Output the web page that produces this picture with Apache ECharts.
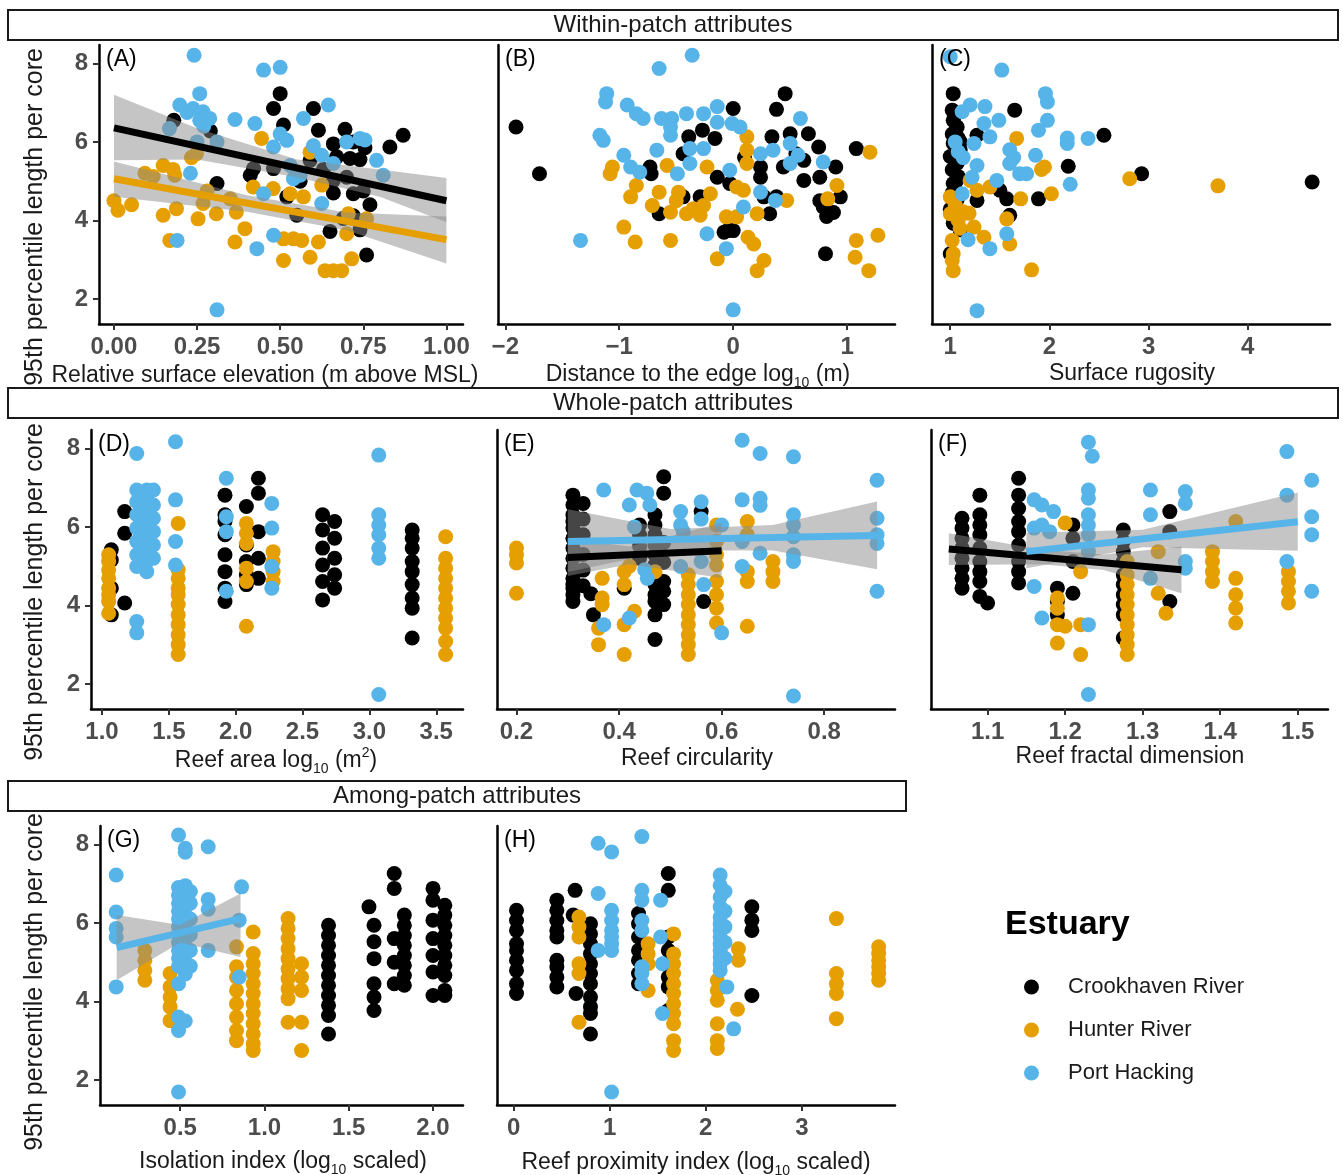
<!DOCTYPE html>
<html>
<head>
<meta charset="utf-8">
<script src="https://cdn.jsdelivr.net/npm/echarts@6/dist/echarts.min.js"></script>
<style>
  html, body { margin: 0; padding: 0; background: #fff; }
  #chart { width: 1343px; height: 1175px; }
</style>
</head>
<body>
<div id="chart"></div>
<script>
const estuaries = ['Crookhaven River', 'Hunter River', 'Port Hacking'];
const colours = ['#000000', '#E69F00', '#56B4E9'];

// one column of cores from the same reef
function col(x, ys) { return ys.map(y => [x, y]); }

// tick labels
const yTicks = [2, 4, 6, 8];
const aTicks = [0, 0.25, 0.5, 0.75, 1];
const bTicks = [-2, -1, 0, 1];
const cTicks = [1, 2, 3, 4];
const dTicks = [1.0, 1.5, 2.0, 2.5, 3.0, 3.5];
const eTicks = [0.2, 0.4, 0.6, 0.8];
const fTicks = [1.1, 1.2, 1.3, 1.4, 1.5];
const gTicks = [0.5, 1.0, 1.5, 2.0];
const hTicks = [0, 1, 2, 3];

// (A) relative surface elevation
const aCrook = [[0.50,7.23],[0.48,6.85],[0.60,6.85],[0.18,6.55],[0.29,6.28],[0.51,6.43],[0.615,6.30],[0.695,6.32],[0.66,5.95],[0.72,6.0],[0.755,5.85],[0.87,6.17],[0.83,5.87],[0.67,5.62],[0.71,5.58],[0.74,5.55],[0.41,5.15],[0.42,5.32],[0.48,5.32],[0.59,5.53],[0.66,5.02],[0.70,5.1],[0.31,4.94],[0.52,4.6],[0.55,4.13],[0.66,4.7],[0.72,4.68],[0.75,4.75],[0.77,4.4],[0.72,4.12],[0.69,4.05],[0.65,3.72],[0.74,3.76],[0.76,3.12],[0.56,5.0],[0.63,5.3]];
const aHunter = [[0.0,4.5],[0.012,4.26],[0.053,4.4],[0.093,5.2],[0.118,5.12],[0.148,5.4],[0.178,5.3],[0.183,5.15],[0.233,5.6],[0.248,5.7],[0.148,4.13],[0.188,4.3],[0.168,3.49],[0.253,4.04],[0.268,4.43],[0.308,4.17],[0.368,4.21],[0.394,3.79],[0.364,3.45],[0.444,6.09],[0.419,4.85],[0.479,4.81],[0.530,4.68],[0.570,4.6],[0.590,5.74],[0.625,4.9],[0.510,3.53],[0.540,3.53],[0.565,3.49],[0.615,3.45],[0.510,2.98],[0.590,3.06],[0.635,2.72],[0.660,2.72],[0.685,2.72],[0.715,3.02],[0.700,3.66],[0.760,4.04],[0.705,4.17],[0.28,4.75],[0.35,4.55]];
const aPort = [[0.241,8.21],[0.45,7.83],[0.50,7.9],[0.258,7.23],[0.198,6.94],[0.238,6.85],[0.268,6.77],[0.258,6.55],[0.288,6.6],[0.364,6.57],[0.424,6.47],[0.57,6.6],[0.645,6.94],[0.167,6.34],[0.25,6.0],[0.31,6.0],[0.50,6.2],[0.52,6.04],[0.48,5.87],[0.625,5.66],[0.70,6.0],[0.74,6.09],[0.755,6.05],[0.79,5.53],[0.81,5.15],[0.53,5.4],[0.56,5.15],[0.54,5.06],[0.23,5.2],[0.45,4.68],[0.625,4.43],[0.48,3.62],[0.43,3.28],[0.19,3.49],[0.31,1.72],[0.22,6.75],[0.27,6.4],[0.6,5.9],[0.66,5.45]];
const aCrookFit = [[0, 6.36], [1, 4.5]];
const aCrookBand = [[0, 5.53, 7.2], [0.25, 5.55, 6.35], [0.55, 5.1, 5.55], [0.8, 4.6, 5.3], [1, 3.95, 5.08]];
const aHunterFit = [[0, 5.06], [1, 3.51]];
const aHunterBand = [[0, 4.6, 5.5], [0.4, 4.22, 4.64], [0.7, 3.75, 4.2], [1, 2.9, 4.1]];

// (B) distance to the edge
const bCrook = [[-1.906,6.38],[-1.70,5.19],[0.0,6.85],[0.456,7.23],[0.38,6.83],[-0.27,6.3],[-0.16,6.09],[-0.39,6.13],[-0.44,5.7],[0.34,6.13],[0.50,6.21],[0.66,6.21],[0.75,5.87],[1.08,5.83],[0.62,5.53],[0.90,5.36],[-0.73,5.36],[-0.72,5.19],[0.24,5.36],[0.24,5.1],[0.44,5.36],[0.62,5.02],[0.76,5.1],[-0.14,5.1],[-0.03,4.94],[-0.44,4.6],[-0.29,4.6],[0.76,4.5],[0.94,4.6],[0.27,4.6],[0.38,4.6],[0.79,4.34],[0.88,4.2],[0.82,4.1],[0.32,4.17],[-0.65,4.17],[-0.05,3.74],[0.0,3.74],[-0.08,3.7],[0.81,3.15],[0.1,5.6],[0.55,5.7]];
const bHunter = [[-1.06,5.36],[-1.08,5.19],[-0.85,4.89],[-0.90,4.6],[-0.96,3.83],[-0.86,3.45],[-0.71,4.38],[-0.65,4.72],[-0.58,5.4],[-0.55,4.21],[-0.55,3.49],[-0.48,4.72],[-0.41,4.17],[-0.29,4.13],[-0.23,5.36],[-0.26,4.38],[-0.20,4.68],[-0.14,3.02],[-0.06,4.09],[0.03,4.09],[0.12,6.13],[0.12,5.79],[0.12,5.45],[0.03,4.85],[0.09,4.77],[0.13,3.57],[0.18,3.4],[0.21,4.17],[0.27,2.98],[0.21,2.72],[0.47,4.51],[0.91,4.89],[0.83,4.55],[1.20,5.74],[1.08,3.49],[1.07,3.06],[1.27,3.62],[1.19,2.72],[-0.35,4.3],[-0.5,4.5]];
const bPort = [[-0.36,8.21],[-0.65,7.87],[-1.11,7.23],[-1.12,7.02],[-0.93,6.94],[-0.85,6.72],[-0.79,6.6],[-0.63,6.6],[-0.54,6.6],[-0.41,6.72],[-0.26,6.72],[-0.14,6.9],[-0.55,6.38],[-0.55,6.17],[-0.14,6.5],[-0.01,6.47],[0.06,6.38],[0.59,6.6],[-1.17,6.17],[-1.14,6.04],[-0.96,5.66],[-0.90,5.36],[-0.67,5.79],[-0.38,5.83],[-0.26,5.83],[0.24,5.7],[0.35,5.79],[0.50,5.96],[0.57,5.66],[0.50,5.45],[0.79,5.49],[-0.82,5.23],[-0.49,5.19],[-0.38,5.45],[-0.03,5.28],[0.24,4.72],[0.37,4.51],[0.09,4.34],[-0.23,3.66],[-0.06,3.28],[-1.34,3.49],[0.0,1.72]];

// (C) surface rugosity
const cCrook = [[1.03,7.23],[1.02,6.81],[1.03,6.55],[1.07,6.38],[1.02,6.2],[1.08,6.1],[1.03,5.96],[1.1,5.8],[1.0,5.63],[1.07,5.46],[1.02,5.29],[1.08,5.12],[1.03,4.94],[1.02,4.7],[1.07,4.53],[1.0,4.28],[1.07,4.1],[1.03,3.93],[1.1,3.76],[1.0,3.15],[1.05,6.7],[1.1,6.0],[1.06,5.0],[1.65,6.81],[1.27,6.17],[1.27,4.51],[1.5,4.77],[1.57,4.55],[1.6,4.13],[1.89,4.55],[2.19,5.38],[2.55,6.17],[2.93,5.19],[4.65,4.98]];
const cHunter = [[1.67,6.09],[1.95,5.36],[1.92,5.3],[2.02,4.68],[1.71,4.55],[1.40,4.85],[1.27,4.77],[1.13,4.22],[1.19,4.18],[1.24,3.83],[1.34,3.57],[1.57,4.04],[1.6,3.4],[1.02,3.49],[1.03,3.15],[1.02,2.98],[1.03,2.72],[1.0,4.6],[1.0,4.17],[1.08,4.0],[1.82,2.74],[2.81,5.06],[3.70,4.88],[1.2,5.02],[1.05,4.4],[1.1,3.8]];
const cPort = [[1.0,8.17],[1.52,7.83],[1.96,7.23],[1.98,7.02],[1.98,6.55],[1.89,6.3],[1.35,6.9],[1.2,6.94],[1.12,6.77],[1.49,6.55],[1.34,6.47],[1.4,6.13],[1.24,5.96],[2.18,6.1],[2.18,5.96],[2.39,6.09],[1.6,5.8],[1.64,5.6],[1.6,5.45],[1.86,5.66],[1.7,5.19],[1.77,5.19],[2.21,4.92],[1.27,5.4],[1.22,5.1],[1.13,5.6],[1.08,5.75],[1.47,5.02],[1.12,4.68],[1.57,3.66],[1.18,3.51],[1.4,3.28],[1.27,1.7],[1.05,6.0]];

// (D) reef area
const dCrook = [col(1.07,[5.42,5.16,4.44,3.76]), col(1.17,[6.39,5.84,4.06]), col(1.92,[6.81,6.31,6.14,5.8,5.29,4.86,4.44,4.1]), col(2.08,[6.52,5.54,5.12,4.78,4.53]), col(2.17,[7.24,6.86,5.88,5.2,4.69]), col(2.65,[6.31,5.92,5.46,5.03,4.61,4.14]), col(2.74,[6.14,5.71,5.2,4.78,4.44]), col(3.32,[5.92,5.71,5.46,5.12,4.86,4.53,4.19,3.93,3.17])].flat();
const dHunter = [col(1.05,[5.29,5.12,4.9,4.69,4.44,4.27,4.1,3.8]), col(1.57,[6.09,4.91,4.69,4.44,4.27,4.02,3.76,3.51,3.25,3.0,2.75]), col(2.08,[6.09,5.84,5.58,4.95,4.61,3.47]), col(2.28,[5.37,5.12,4.86,4.61]), col(3.57,[5.75,5.2,4.95,4.69,4.44,4.19,3.93,3.68,3.42,3.08,2.75])].flat();
const dPort = [col(1.26,[7.87,6.94,6.64,6.31,5.97,5.63,5.29,4.99,3.59,3.3]), col(1.335,[6.94,6.73,6.47,6.14,5.8,5.46,5.12,4.86]), col(1.385,[6.94,6.56,6.22,5.88,5.54,5.2]), col(1.55,[8.17,6.69,5.63,5.03]), col(1.93,[7.24,6.26,5.88,4.36]), col(2.27,[6.6,5.97,4.99,4.44]), col(3.07,[7.83,6.31,6.05,5.8,5.46,5.2,1.73])].flat();

// (E) reef circularity
const eCrook = [col(0.31,[6.81,6.56,6.31,6.14,5.97,5.71,5.46,5.2,4.95,4.69,4.53,4.44,4.27,4.1]), col(0.33,[6.6,6.2,5.8,5.3,4.9,4.5]), [[0.35,3.76],[0.345,4.3],[0.41,4.44]], col(0.44,[6.05,5.8,5.5,5.2]), col(0.47,[6.31,6.05,5.8,5.54,5.29,5.03,4.78,4.53,4.27,4.1,3.76,3.13]), col(0.487,[7.28,6.86,5.6,5.1,4.61,4.36,4.02]), [[0.56,6.39],[0.565,4.1]]].flat();
const eHunter = [col(0.2,[5.46,5.29,5.08,4.31]), [[0.367,4.69],[0.367,4.19],[0.367,4.02],[0.36,3.42],[0.36,3.0],[0.41,4.86],[0.41,4.53],[0.41,3.51],[0.41,2.75],[0.43,3.85],[0.47,4.86],[0.42,5.0]], col(0.535,[4.78,4.53,4.27,4.02,3.76,3.51,3.25,3.0,2.75]), col(0.59,[6.05,5.63,5.29,5.03,4.61,4.27,3.93,3.55]), [[0.65,6.14],[0.65,5.8],[0.65,4.86],[0.65,4.61],[0.65,3.47]], col(0.70,[5.12,4.86,4.61])].flat();
const ePort = [[0.64,8.21],[0.675,7.87],[0.74,7.79],[0.903,7.19],[0.37,6.94],[0.435,6.94],[0.454,6.86],[0.42,6.56],[0.46,6.56],[0.56,6.64],[0.64,6.69],[0.675,6.73],[0.675,6.55],[0.52,6.39],[0.52,6.05],[0.525,5.88],[0.6,6.05],[0.74,6.31],[0.74,6.05],[0.74,5.75],[0.903,6.22],[0.903,5.8],[0.903,5.58],[0.64,5.63],[0.675,5.33],[0.74,5.29],[0.74,5.12],[0.64,4.99],[0.52,4.99],[0.56,5.12],[0.45,4.91],[0.455,4.69],[0.565,4.53],[0.903,4.36],[0.42,3.68],[0.37,3.51],[0.6,3.3],[0.74,1.69],[0.43,6.0],[0.56,6.2]];
const eCrookFit = [[0.3, 5.22], [0.6, 5.39]];
const eCrookBand = [[0.3, 4.75, 5.7], [0.42, 5.05, 5.5], [0.6, 4.7, 6.1]];
const ePortFit = [[0.3, 5.63], [0.903, 5.78]];
const ePortBand = [[0.3, 4.85, 6.45], [0.5, 5.4, 5.95], [0.7, 5.4, 6.05], [0.903, 4.92, 6.65]];

// (F) reef fractal dimension
const fCrook = [col(1.067,[6.22,5.97,5.71,5.46,5.2,4.95,4.69,4.44]), col(1.09,[6.81,6.31,6.05,5.8,5.46,5.12,4.86,4.61,4.23]), [[1.1,4.06]], col(1.14,[7.24,6.81,6.47,6.14,5.88,5.54,5.12,4.86,4.57]), col(1.19,[4.44,4.1,3.76]), col(1.21,[6.05,5.71,5.12,4.31]), col(1.275,[5.92,5.63,5.37,5.12,4.78,4.53,4.27,4.02,3.76,3.17]), col(1.335,[6.39,5.88,4.1])].flat();
const fHunter = [col(1.19,[4.19,3.93,3.51,3.04]), [[1.2,6.1],[1.2,3.47]], col(1.22,[4.86,3.51,2.75]), col(1.28,[5.12,4.78,4.53,4.27,4.02,3.76,3.51,3.25,3.0,2.75]), [[1.32,5.37],[1.32,4.31],[1.33,3.8]], col(1.39,[5.37,5.12,4.86,4.61]), col(1.42,[6.14,4.69,4.27,3.93,3.55]), col(1.488,[4.86,4.61,4.36,4.06])].flat();
const fPort = [[[1.23,8.16],[1.235,7.8]], col(1.23,[6.94,6.73,6.31,6.05,5.8,5.37,3.51,1.73]), [[1.16,6.69],[1.17,6.56],[1.185,6.39],[1.16,5.97],[1.17,6.05],[1.18,5.88],[1.16,4.48],[1.17,3.68],[1.31,6.94],[1.355,6.9],[1.355,6.6],[1.31,4.69],[1.355,5.12],[1.355,4.95],[1.486,7.92],[1.486,6.81],[1.486,5.12],[1.518,7.19],[1.518,6.26],[1.518,5.8],[1.518,4.36],[1.31,6.31]]].flat();
const fCrookFit = [[1.05, 5.44], [1.35, 4.91]];
const fCrookBand = [[1.05, 5.03, 5.84], [1.17, 5.05, 5.42], [1.25, 4.9, 5.3], [1.35, 4.31, 5.5]];
const fPortFit = [[1.15, 5.37], [1.5, 6.13]];
const fPortBand = [[1.15, 4.95, 5.85], [1.3, 5.48, 5.93], [1.5, 5.39, 6.88]];

// (G) isolation index
const gCrook = [col(1.38,[5.94,5.68,5.43,5.17,4.92,4.66,4.41,4.15,3.9,3.64,3.17]), [[1.62,6.41]], col(1.65,[5.94,5.52,5.09,4.45,4.11,3.77]), col(1.77,[7.26,6.88,5.6,5.0,4.45]), col(1.83,[6.2,5.94,5.68,5.43,5.17,4.92,4.66,4.41]), col(2.0,[6.88,6.58,6.07,5.6,5.17,4.75,4.15]), col(2.07,[6.45,6.2,5.94,5.68,5.43,5.17,4.92,4.66,4.28,4.15])].flat();
const gHunter = [col(0.29,[5.3,5.05,4.79,4.54]), col(0.44,[4.71,4.37,4.11,3.86,3.51]), col(0.834,[5.39,4.88,4.62,4.28,3.94,3.6,3.26,3.0]), col(0.933,[5.77,5.22,4.96,4.71,4.45,4.2,3.94,3.69,3.43,3.17,2.92,2.75]), col(1.14,[6.11,5.86,5.6,5.34,5.09,4.83,4.58,4.32,4.07,3.47]), col(1.22,[4.96,4.62,4.28,3.47,2.75])].flat();
const gPort = [col(0.12,[7.22,6.28,5.86,5.64,4.37]), col(0.49,[8.24,6.9,6.7,6.5,6.3,6.1,5.9,5.7,5.5,5.3,5.1,4.9,4.45,3.6,3.26,1.69]), col(0.53,[7.9,7.8,6.95,6.6,6.4,6.2,6.0,5.8,5.6,5.4,5.2,5.0,4.7,3.5]), col(0.56,[6.8,6.5,6.1,5.7,5.3,4.9]), col(0.666,[7.94,6.6,6.35,5.3]), [[0.864,6.92],[0.85,6.07],[0.85,4.62]]].flat();
const gPortFit = [[0.123, 5.37], [0.858, 6.11]];
const gPortBand = [[0.123, 4.54, 6.2], [0.5, 5.5, 5.95], [0.858, 5.13, 6.75]];

// (H) reef proximity index
const hCrook = [col(0.03,[6.32,6.06,5.81,5.47,5.3,5.05,4.79,4.45,4.2]), col(0.45,[6.58,6.32,6.06,5.81,5.64,5.05,4.88,4.62,4.37]), [[0.64,6.83],[0.62,6.2],[0.65,4.2]], col(0.80,[5.98,5.72,5.47,5.21,4.96,4.71,4.45,4.11,3.86,3.69,3.17]), col(1.30,[6.24,5.98,5.64,5.3,5.05,4.71,4.45]), col(1.61,[7.26,6.83,5.64,5.3,4.96,4.62,4.37,3.77]), col(2.48,[6.41,6.07,5.81,4.15])].flat();
const hHunter = [col(0.68,[6.15,5.9,5.64,4.96,4.71,3.47]), col(1.40,[5.47,5.21,4.96,4.28]), col(1.665,[5.72,5.21,4.96,4.71,4.45,4.2,3.94,3.69,3.43,3.0,2.75]), col(2.12,[4.54,4.28,4.03,3.43,3.0,2.8]), [[2.34,5.34],[2.34,5.05],[2.33,3.8]], col(3.36,[6.11,4.71,4.45,4.2,3.56]), col(3.80,[5.39,5.22,5.05,4.88,4.71,4.54])].flat();
const hPort = [[[0.88,8.03],[0.88,6.75],[0.88,5.3]], col(1.02,[7.81,6.32,6.06,5.81,5.64,5.47,5.3,1.69]), col(1.335,[8.2,6.83,6.58,6.06,5.81,4.88,4.71,4.45]), [[1.53,6.58],[1.53,5.64],[1.55,4.96],[1.55,3.69]], col(2.15,[7.22,6.96,6.66,6.41,6.15,5.98,5.81,5.64,5.47,5.3,5.13,4.96,4.79]), col(2.2,[6.8,6.3,5.9,5.5,5.1]), [[2.22,4.37],[2.29,3.3]]].flat();

// layout of the facet grid
const FONT = "'Liberation Sans', Arial, sans-serif";
const Y_MIN = 1.36, Y_MAX = 8.47, PANEL_H = 279;
const minus = v => String(v).replace('-', '\u2212');

const panels = [
  {tag: '(A)', left: 99,  top: 45,  width: 364, x: [-0.045, 1.05], ticks: aTicks, fmt: v => v.toFixed(2), yLabels: true,
   pts: [aCrook, aHunter, aPort], fits: [{k: 0, line: aCrookFit, band: aCrookBand}, {k: 1, line: aHunterFit, band: aHunterBand}]},
  {tag: '(B)', left: 498, top: 45,  width: 397, x: [-2.064, 1.42], ticks: bTicks, fmt: v => minus(v), yLabels: false,
   pts: [bCrook, bHunter, bPort], fits: []},
  {tag: '(C)', left: 932, top: 45,  width: 398, x: [0.816, 4.83], ticks: cTicks, fmt: v => String(v), yLabels: false,
   pts: [cCrook, cHunter, cPort], fits: []},
  {tag: '(D)', left: 91,  top: 430, width: 372, x: [0.918, 3.70], ticks: dTicks, fmt: v => v.toFixed(1), yLabels: true,
   pts: [dCrook, dHunter, dPort], fits: []},
  {tag: '(E)', left: 497, top: 430, width: 398, x: [0.162, 0.938], ticks: eTicks, fmt: v => v.toFixed(1), yLabels: false,
   pts: [eCrook, eHunter, ePort], fits: [{k: 0, line: eCrookFit, band: eCrookBand}, {k: 2, line: ePortFit, band: ePortBand}]},
  {tag: '(F)', left: 931, top: 430, width: 397, x: [1.027, 1.539], ticks: fTicks, fmt: v => v.toFixed(1), yLabels: false,
   pts: [fCrook, fHunter, fPort], fits: [{k: 0, line: fCrookFit, band: fCrookBand}, {k: 2, line: fPortFit, band: fPortBand}]},
  {tag: '(G)', left: 100, top: 826, width: 363, x: [0.024, 2.178], ticks: gTicks, fmt: v => v.toFixed(1), yLabels: true,
   pts: [gCrook, gHunter, gPort], fits: [{k: 2, line: gPortFit, band: gPortBand}]},
  {tag: '(H)', left: 497, top: 826, width: 398, x: [-0.173, 3.97], ticks: hTicks, fmt: v => String(v), yLabels: false,
   pts: [hCrook, hHunter, hPort], fits: []}
];

const grids = [], xAxes = [], yAxes = [], series = [];
const axisLine = {onZero: false, lineStyle: {color: '#000', width: 2.5}};
const tickLabel = {color: '#4d4d4d', fontWeight: 'bold', fontSize: 24, fontFamily: FONT};

panels.forEach((p, i) => {
  grids.push({left: p.left, top: p.top, width: p.width, height: PANEL_H});
  xAxes.push({
    gridIndex: i, type: 'value', min: p.x[0], max: p.x[1],
    axisLine: axisLine, splitLine: {show: false},
    axisTick: {customValues: p.ticks, length: 6, lineStyle: {color: '#333', width: 2}},
    axisLabel: Object.assign({customValues: p.ticks, margin: 11, formatter: p.fmt}, tickLabel)
  });
  yAxes.push({
    gridIndex: i, type: 'value', min: Y_MIN, max: Y_MAX,
    axisLine: axisLine, splitLine: {show: false},
    axisTick: {show: p.yLabels, customValues: yTicks, length: 6, lineStyle: {color: '#333', width: 2}},
    axisLabel: Object.assign({show: p.yLabels, customValues: yTicks, margin: 11}, tickLabel)
  });
  p.pts.forEach((pts, k) => {
    series.push({
      name: estuaries[k], type: 'scatter', xAxisIndex: i, yAxisIndex: i,
      data: pts, symbolSize: 15, itemStyle: {color: colours[k], opacity: 1}, z: 2
    });
  });
  p.fits.forEach(f => {
    const band = f.band;
    series.push({
      name: 'ci', type: 'custom', xAxisIndex: i, yAxisIndex: i, silent: true, z: 3,
      data: band, encode: {x: 0, y: [1, 2]},
      renderItem: (params, api) => {
        if (params.dataIndex !== 0) return;
        const upper = band.map(d => api.coord([d[0], d[2]]));
        const lower = band.slice().reverse().map(d => api.coord([d[0], d[1]]));
        return {type: 'polygon', shape: {points: upper.concat(lower)},
                style: {fill: 'rgba(140,140,140,0.5)'}};
      }
    });
    series.push({
      name: 'fit', type: 'line', xAxisIndex: i, yAxisIndex: i, silent: true, z: 4,
      data: f.line, symbol: 'none', lineStyle: {color: colours[f.k], width: 7}
    });
  });
});

// text helpers for the graphic layer
function label(x, y, text, size, extra) {
  return Object.assign({
    type: 'text', x: x, y: y, silent: true, z: 5,
    style: Object.assign({
      text: text, fontSize: size, fontFamily: FONT, fill: '#1a1a1a',
      align: 'center', verticalAlign: 'middle', textAlign: 'center', textVerticalAlign: 'middle',
      lineHeight: 30,
      rich: {
        sub: {fontSize: 14, fontFamily: FONT, fill: '#1a1a1a', verticalAlign: 'bottom', lineHeight: 14},
        sup: {fontSize: 14, fontFamily: FONT, fill: '#1a1a1a', verticalAlign: 'top', lineHeight: 14}
      }
    }, extra || {})
  });
}
function strip(x, y, w, text) {
  return [
    {type: 'rect', silent: true, z: 10, shape: {x: x, y: y, width: w, height: 30},
     style: {fill: '#fff', stroke: '#1a1a1a', lineWidth: 2}},
    Object.assign(label(x + w / 2, y + 15, text, 24), {z: 11})
  ];
}

const graphics = [];
[217, 592, 982].forEach(cy => {
  const t = label(35, cy, '95th percentile length per core', 25);
  t.rotation = Math.PI / 2;
  t.z = 1;
  graphics.push(t);
});
graphics.push(...strip(8, 10, 1330, 'Within-patch attributes'));
graphics.push(...strip(8, 388, 1330, 'Whole-patch attributes'));
graphics.push(...strip(8, 781, 898, 'Among-patch attributes'));

graphics.push(label(265, 376, 'Relative surface elevation (m above MSL)', 23));
graphics.push(label(698, 375, 'Distance to the edge log{sub|10} (m)', 23));
graphics.push(label(1132, 374, 'Surface rugosity', 23));
graphics.push(label(276, 761, 'Reef area log{sub|10} (m{sup|2})', 23));
graphics.push(label(697, 759, 'Reef circularity', 23));
graphics.push(label(1130, 757, 'Reef fractal dimension', 23));
graphics.push(label(283, 1162, 'Isolation index (log{sub|10} scaled)', 23));
graphics.push(label(696, 1163, 'Reef proximity index (log{sub|10} scaled)', 23));

panels.forEach(p => {
  graphics.push(label(p.left + 7, p.top + 15, p.tag, 23, {align: 'left', textAlign: 'left', fill: '#000'}));
});
graphics.push(label(1005, 925, 'Estuary', 34, {align: 'left', textAlign: 'left', fontWeight: 'bold', fill: '#000'}));

const chart = echarts.init(document.getElementById('chart'), null, {renderer: 'canvas'});
chart.setOption({
  animation: false,
  backgroundColor: '#fff',
  grid: grids,
  xAxis: xAxes,
  yAxis: yAxes,
  series: series,
  legend: {
    data: estuaries, orient: 'vertical', left: 1019, top: 971,
    icon: 'circle', itemWidth: 15, itemHeight: 15, itemGap: 21, selectedMode: false,
    formatter: n => '{t|' + n + '}',
    textStyle: {rich: {t: {fontSize: 22, lineHeight: 24, fontFamily: FONT, color: '#1a1a1a', padding: [0, 0, 0, 24]}}}
  },
  graphic: graphics
});
</script>
</body>
</html>
